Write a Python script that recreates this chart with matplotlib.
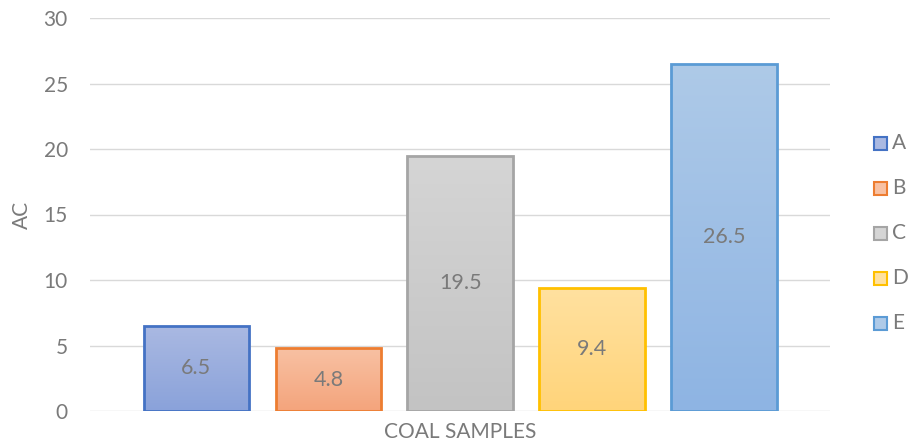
import numpy as np
import matplotlib
matplotlib.use("Agg")
import matplotlib.pyplot as plt
from matplotlib.colors import LinearSegmentedColormap
from matplotlib.patches import Rectangle

plt.rcParams['font.family'] = ['Lato', 'DejaVu Sans']

samples = ["A", "B", "C", "D", "E"]
ac_values = [6.5, 4.8, 19.5, 9.4, 26.5]
y_ticks = [0, 5, 10, 15, 20, 25, 30]

edge_colors = ["#4472c4", "#ed7d31", "#a5a5a5", "#ffc000", "#5b9bd5"]
top_colors = ["#aab9e2", "#f8c1a3", "#d5d5d5", "#ffe1a0", "#aecae8"]
bottom_colors = ["#8aa2da", "#f4a47c", "#c3c3c3", "#ffd47a", "#8eb4e3"]
text_color = "#7a7a7a"

W, H = 912, 446
fig = plt.figure(figsize=(W / 100, H / 100), dpi=100)
ax = fig.add_axes([90 / W, 35 / H, 740 / W, 393 / H])

x = np.arange(len(samples))
width = 0.8
bars = ax.bar(x, ac_values, width=width, facecolor="none",
              edgecolor=edge_colors, linewidth=2, zorder=3)

# vertical gradient fill clipped to each bar
grad = np.linspace(0, 1, 256).reshape(-1, 1)
for bar, top, bot in zip(bars, top_colors, bottom_colors):
    cmap = LinearSegmentedColormap.from_list("g", [bot, top])
    x0, y0 = bar.get_x(), bar.get_y()
    w, h = bar.get_width(), bar.get_height()
    im = ax.imshow(grad, cmap=cmap, aspect="auto", origin="lower",
                   extent=[x0, x0 + w, y0, y0 + h], zorder=2)
    clip = Rectangle((x0, y0), w, h, transform=ax.transData)
    im.set_clip_path(clip)

for xi, v in zip(x, ac_values):
    ax.text(xi, v / 2, f"{v}", ha="center", va="center",
            fontsize=15.5, color=text_color, zorder=4)

ax.set_xlim(-0.807, 4.804)
ax.set_ylim(0, 30)
ax.set_yticks(y_ticks)
ax.set_xticks([])
ax.grid(axis="y", color="#d9d9d9", linewidth=1, zorder=0)
for s in ax.spines.values():
    s.set_visible(False)
ax.tick_params(axis="y", length=0, pad=16, labelsize=15, labelcolor=text_color)

ax.set_ylabel("AC", fontsize=15, color=text_color, labelpad=8)
ax.set_xlabel("COAL SAMPLES", fontsize=15, color=text_color, labelpad=8)

# legend: small swatches stacked on the right
leg_y = [143, 188, 233, 278, 323]
for name, top, edge, yy in zip(samples, top_colors, edge_colors, leg_y):
    fig.patches.append(Rectangle((874 / W, (H - yy - 6.5) / H), 13 / W, 13 / H,
                                 transform=fig.transFigure, facecolor=top,
                                 edgecolor=edge, linewidth=1.5))
    fig.text(892 / W, (H - yy) / H, name, ha="left", va="center",
             fontsize=15, color=text_color)

fig.savefig("out.png", dpi=100)
